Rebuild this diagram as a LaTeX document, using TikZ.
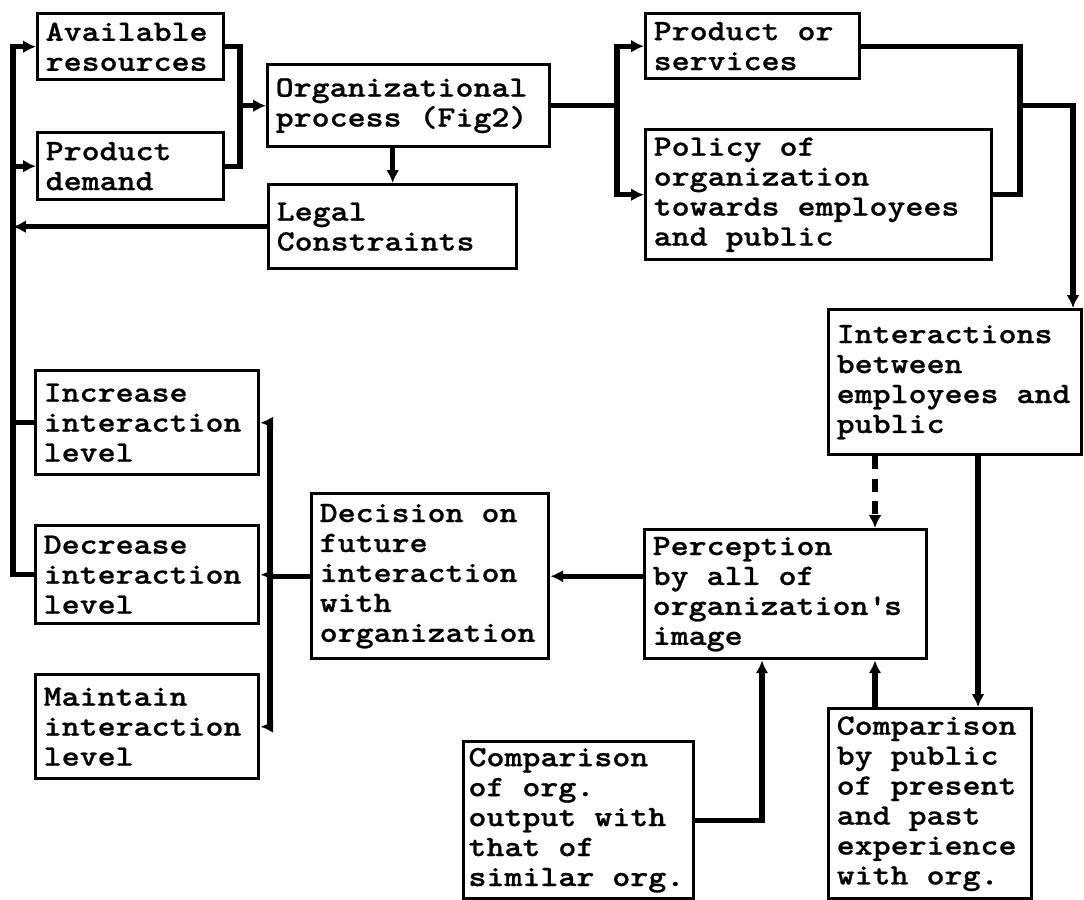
\documentclass[tikz,border=0pt]{standalone}
\usepackage{fontspec}
\newfontfamily\typer{lmmonolt10-bold.otf}[FakeStretch=1.16, FakeBold=0.8]
\newcommand\typespace{\spaceskip=\fontcharwd\font`\x\relax\xspaceskip=\spaceskip}
\usepackage{tikz}
\usetikzlibrary{arrows.meta,positioning}

\begin{document}
\begin{tikzpicture}[
  x=0.025cm, y=-0.025cm,
  every node/.style={font=\typer\fontsize{21}{21.3}\selectfont, execute at begin node=\typespace},
  box/.style={draw, line width=2.4pt, anchor=north west, align=left, inner xsep=0.2cm, inner ysep=0pt},
  wire/.style={line width=3.6pt},
  arr/.style={wire, -{Latex[length=3.2mm,width=3.2mm]}},
  arrs/.style={wire, {Latex[length=3.2mm,width=3.2mm]}-{Latex[length=3.2mm,width=3.2mm]}}
]
  \useasboundingbox (0,0) rectangle (1084,900);

  % Inputs (left column, top)
  \node[box, text width=4.25cm, minimum height=1.65cm] (avail) at (36,12) {Available\\resources};
  \node[box, text width=4.25cm, minimum height=1.675cm] (demand) at (36,131) {Product\\demand};
  \node[box, text width=6.65cm, minimum height=2.05cm] (orgproc) at (266,63) {Organizational\\process (Fig2)};
  \node[box, text width=5.8cm, minimum height=2.1cm] (legal) at (267,183) {Legal\\Constraints};

  % Outputs (top right)
  \node[box, text width=4.95cm, minimum height=1.625cm] (prodserv) at (644,12) {Product or\\services};
  \node[box, text width=8.25cm, minimum height=3.25cm] (policy) at (644,128) {Policy of\\organization\\towards employees\\and public};
  \node[box, text width=5.925cm, minimum height=3.625cm] (interact) at (827,308) {Interactions\\between\\employees and\\public};

  % Decision options (left column, bottom)
  \node[box, text width=5.175cm, minimum height=2.6cm] (increase) at (34,369) {Increase\\interaction\\level};
  \node[box, text width=5.175cm, minimum height=2.45cm] (decrease) at (34,524) {Decrease\\interaction\\level};
  \node[box, text width=5.175cm, minimum height=2.6cm] (maintain) at (34,673) {Maintain\\interaction\\level};

  % Perception and comparisons
  \node[box, text width=5.525cm, minimum height=4.125cm] (decision) at (310,492) {Decision on\\future\\interaction\\with\\organization};
  \node[box, text width=6.65cm, minimum height=3.225cm] (perception) at (643,528) {Perception\\by all of\\organization\textquotesingle s\\image};
  \node[box, inner xsep=0.12cm, text width=5.51cm, minimum height=3.925cm] (cmpsimilar) at (462,740) {Comparison\\of org.\\output with\\that of\\similar org.};
  \node[box, text width=4.675cm, minimum height=4.75cm] (cmppublic) at (827,707) {Comparison\\by public\\of present\\and past\\experience\\with org.};

  % Junction columns
  \coordinate (lbus) at (13,0);
  \coordinate (ljoin) at (240,0);
  \coordinate (rjoin) at (617,0);
  \coordinate (pjoin) at (1020,0);
  \coordinate (ijoin) at (1073,0);
  \coordinate (ptap) at (875,0);
  \coordinate (stap) at (978,0);
  \coordinate (qtap) at (762,0);
  \coordinate (djoin) at (270,0);

  % Feedback bus on the left
  \draw[arr] (decrease.west) -- (decrease.west -| lbus) |- (avail.west);
  \draw[arr] (demand.west -| lbus) -- (demand.west);
  \draw[arr] (legal.west) -- (legal.west -| lbus);
  \draw[wire] (increase.west) -- (increase.west -| lbus);

  % Inputs into the organizational process
  \draw[wire] (avail.east) -| (ljoin |- demand.east) -- (demand.east);
  \draw[arr] (orgproc.west -| ljoin) -- (orgproc.west);
  \draw[arr] (legal.north |- orgproc.south) -- (legal.north);

  % Outputs
  \draw[wire] (orgproc.east) -- (orgproc.east -| rjoin);
  \draw[arrs] (prodserv.west) -| (rjoin |- policy.west) -- (policy.west);
  \draw[wire] (prodserv.east) -| (pjoin |- policy.east) -- (policy.east);
  \draw[arr] (pjoin |- orgproc.east) -| (ijoin |- interact.north);

  % Interactions to perception
  \draw[arr, dash pattern=on 9pt off 7pt] (ptap |- interact.south) -- (ptap |- perception.north);
  \draw[arr] (stap |- interact.south) -- (stap |- cmppublic.north);
  \draw[arr] (ptap |- cmppublic.north) -- (ptap |- perception.south);
  \draw[arr] (cmpsimilar.east) -| (qtap |- perception.south);

  % Decision
  \draw[arr] (decision.east -| perception.west) -- (decision.east);
  \draw[wire] (decision.west) -- (decision.west -| djoin);
  \draw[arrs] (increase.east) -| (djoin |- maintain.east) -- (maintain.east);
  \draw[arr] (djoin |- decrease.east) -- (decrease.east);

\end{tikzpicture}
\end{document}
